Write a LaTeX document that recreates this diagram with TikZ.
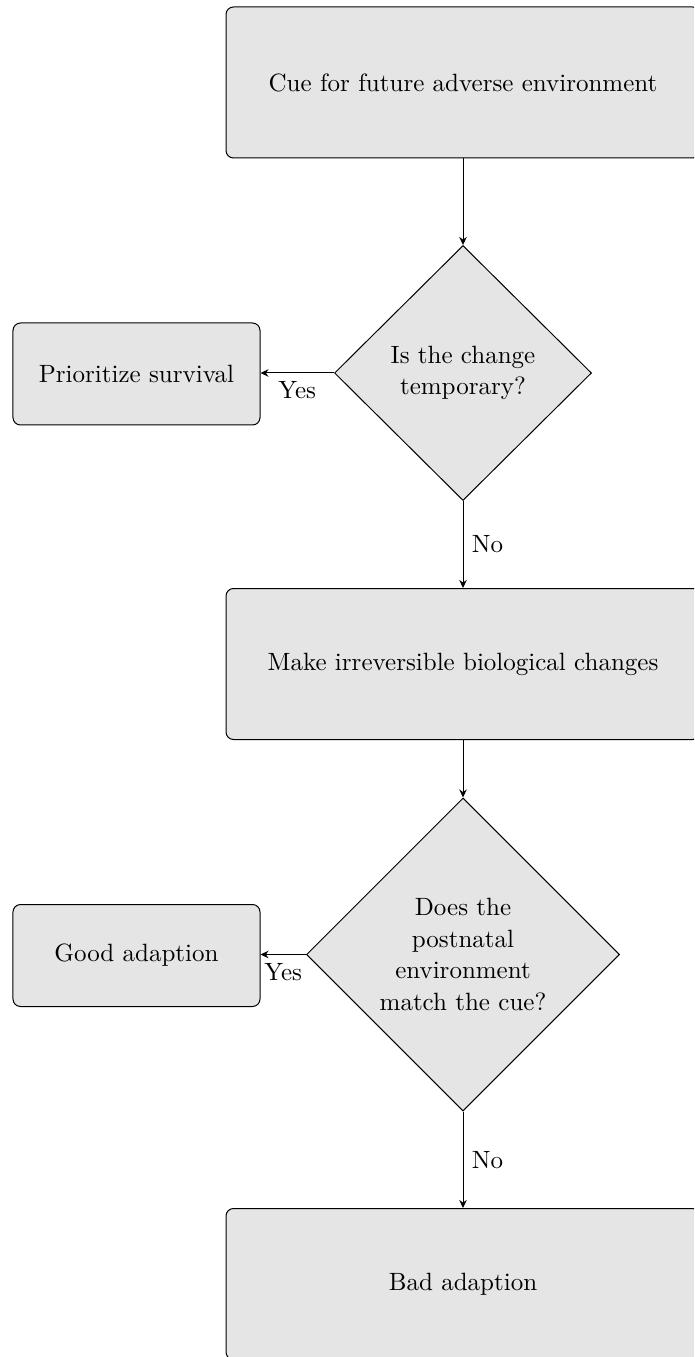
\documentclass[tikz,border=0pt]{standalone}
\usetikzlibrary{shapes.geometric,arrows.meta}
\begin{document}
\begin{tikzpicture}[x=0.4pt,y=-0.4pt,
  bigbox/.style={draw, rounded corners=3pt, fill=gray!20, minimum width=189.6pt, minimum height=60.4pt, inner sep=0pt},
  smallbox/.style={draw, rounded corners=3pt, fill=gray!20, minimum width=98.8pt, minimum height=40.8pt, inner sep=0pt},
  decision/.style={draw, diamond, fill=gray!20, inner sep=0pt, align=center},
  conn/.style={draw, -{Stealth[length=3.2pt,width=3pt]}},
  lbl/.style={font=\normalsize}
]
\useasboundingbox (0,0) rectangle (694,1357);
\clip (0,0) rectangle (694,1357);
\node[bigbox] (cue) at (463,82.5) {Cue for future adverse environment};
\node[decision, minimum width=102.8pt, minimum height=102pt] (d1) at (463,373) {Is the change\\[0.6pt]temporary?};
\node[smallbox] (surv) at (136.5,374) {Prioritize survival};
\node[bigbox] (irr) at (463,664) {Make irreversible biological changes};
\node[decision, minimum width=125.2pt, minimum height=125.2pt] (d2) at (463,954.5) {Does the\\[0.6pt]postnatal\\[0.6pt]environment\\[0.6pt]match the cue?};
\node[smallbox] (good) at (136.5,955.5) {Good adaption};
\node[bigbox] (bad) at (463,1284) {Bad adaption};
\draw[conn] (cue) -- (d1);
\draw[conn] (d1.west) -- node[below, lbl] {Yes} (d1.west -| surv.east);
\draw[conn] (d1) -- node[right, lbl] {No} (irr);
\draw[conn] (irr) -- (d2);
\draw[conn] (d2.west) -- node[below, lbl] {Yes} (d2.west -| good.east);
\draw[conn] (d2) -- node[right, lbl] {No} (bad);
\end{tikzpicture}
\end{document}
